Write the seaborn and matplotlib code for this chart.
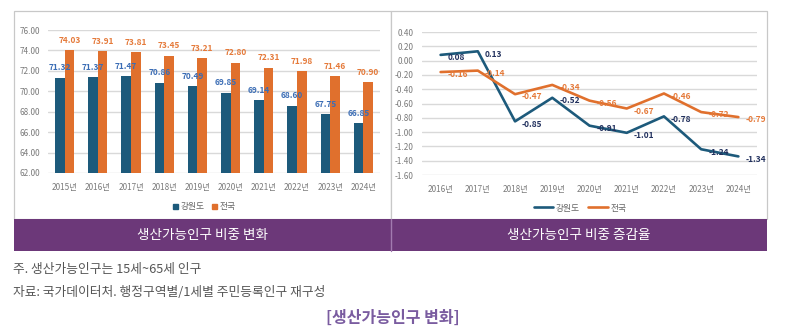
import matplotlib
matplotlib.use("Agg")
import matplotlib.pyplot as plt
from matplotlib.patches import Rectangle
from matplotlib.lines import Line2D
import seaborn as sns
import pandas as pd

# ---- data ----
bar_years = ["2015년", "2016년", "2017년", "2018년", "2019년", "2020년", "2021년", "2022년", "2023년", "2024년"]
share_gangwon = [71.32, 71.37, 71.47, 70.86, 70.49, 69.85, 69.14, 68.60, 67.75, 66.85]
share_national = [74.03, 73.91, 73.81, 73.45, 73.21, 72.80, 72.31, 71.98, 71.46, 70.90]

line_years = ["2016년", "2017년", "2018년", "2019년", "2020년", "2021년", "2022년", "2023년", "2024년"]
rate_gangwon = [0.08, 0.13, -0.85, -0.52, -0.91, -1.01, -0.78, -1.24, -1.34]
rate_national = [-0.16, -0.14, -0.47, -0.34, -0.56, -0.67, -0.46, -0.72, -0.79]

series_names = ["강원도", "전국"]
panel_titles = ["생산가능인구 비중 변화", "생산가능인구 비중 증감율"]
note_lines = ["주. 생산가능인구는 15세~65세 인구", "자료: 국가데이터처. 행정구역별/1세별 주민등록인구 재구성"]
main_title = "[생산가능인구 변화]"

# ---- style ----
sns.set_theme(style="white")
plt.rcParams["font.family"] = ["Noto Sans CJK KR", "DejaVu Sans"]
plt.rcParams["axes.unicode_minus"] = False

BLUE = "#1D5A7B"
ORANGE = "#E0702D"
BLUE_LBL = "#3B6DB5"
NAVY_LBL = "#22315E"
ORANGE_LBL = "#E57A3A"
GRID = "#D9D9D9"
TICK = "#7A7A7A"
PURPLE = "#6C3879"

W, H = 786, 327
fig = plt.figure(figsize=(W / 100, H / 100), dpi=100)


def fx(px):
    return px / W


def fy(py):
    return 1 - py / H


# panel boxes
for x0, x1 in [(14, 391), (391, 767)]:
    fig.add_artist(Rectangle((fx(x0), fy(219)), fx(x1 - x0), (219 - 11) / H,
                             transform=fig.transFigure, facecolor="white",
                             edgecolor="#C8C8C8", lw=0.9, zorder=0))
# purple band
fig.add_artist(Rectangle((fx(14), fy(251)), fx(767 - 14), (251 - 219) / H,
                         transform=fig.transFigure, facecolor=PURPLE,
                         edgecolor="none", zorder=1))
fig.add_artist(Line2D([fx(391), fx(391)], [fy(251), fy(219)], transform=fig.transFigure,
                      color="#A27BB0", lw=1.0, zorder=2))
fig.text(fx(202), fy(235), panel_titles[0], color="white", fontsize=9.8,
         ha="center", va="center")
fig.text(fx(579), fy(235), panel_titles[1], color="white", fontsize=9.8,
         ha="center", va="center")

# ---- left: bar chart ----
df_bar = pd.DataFrame({
    "year": bar_years * 2,
    "value": share_gangwon + share_national,
    "series": [series_names[0]] * len(bar_years) + [series_names[1]] * len(bar_years),
})
ax1 = fig.add_axes([fx(48), fy(173), fx(380 - 48), (173 - 30) / H])
sns.barplot(data=df_bar, x="year", y="value", hue="series", ax=ax1,
            palette=[BLUE, ORANGE], width=0.58, saturation=1, legend=False,
            linewidth=0)
ax1.set_ylim(62, 76)
ax1.set_yticks(range(62, 77, 2))
ax1.set_yticklabels([f"{v:.2f}" for v in range(62, 77, 2)])
ax1.set_xlim(-0.5, len(bar_years) - 0.5)
for cont, col in zip(ax1.containers, [BLUE_LBL, ORANGE_LBL]):
    ax1.bar_label(cont, fmt="%.2f", color=col, fontsize=6, fontweight="bold", padding=4)

# ---- right: line chart ----
df_line = pd.DataFrame({
    "pos": list(range(len(line_years))) * 2,
    "value": rate_gangwon + rate_national,
    "series": [series_names[0]] * len(line_years) + [series_names[1]] * len(line_years),
})
ax2 = fig.add_axes([fx(422), fy(175), fx(757 - 422), (175 - 32) / H])
sns.lineplot(data=df_line, x="pos", y="value", hue="series", ax=ax2,
             palette=[BLUE, ORANGE], linewidth=1.9, legend=False)
ax2.set_xlim(-0.5, len(line_years) - 0.5)
ax2.set_ylim(-1.6, 0.4)
yt = [round(-1.6 + 0.2 * i, 1) for i in range(11)]
ax2.set_yticks(yt)
ax2.set_yticklabels([f"{v:.2f}" for v in yt])
ax2.set_xticks(range(len(line_years)))
ax2.set_xticklabels(line_years)
for vals, col in [(rate_gangwon, NAVY_LBL), (rate_national, ORANGE_LBL)]:
    for i, v in enumerate(vals):
        ax2.annotate(f"{v:.2f}", (i, v), xytext=(5, -2), textcoords="offset points",
                     ha="left", va="center", fontsize=6, fontweight="bold", color=col)

for ax in (ax1, ax2):
    ax.set_facecolor("none")
    ax.set_xlabel("")
    ax.set_ylabel("")
    for s in ax.spines.values():
        s.set_visible(False)
    ax.grid(axis="y", color=GRID, lw=1.0)
    ax.set_axisbelow(True)
    ax.tick_params(axis="both", length=0, labelsize=5.9, labelcolor=TICK)
    ax.tick_params(axis="x", pad=7)
    ax.tick_params(axis="y", pad=6)

# legends
leg1 = [Rectangle((0, 0), 1, 1, color=BLUE), Rectangle((0, 0), 1, 1, color=ORANGE)]
fig.legend(leg1, series_names, loc="center", bbox_to_anchor=(fx(204), fy(207)),
           ncol=2, frameon=False, fontsize=6.3, handlelength=0.6, handleheight=0.6,
           handletextpad=0.3, columnspacing=0.8, labelcolor="#666666")
leg2 = [Line2D([0], [0], color=BLUE, lw=1.9), Line2D([0], [0], color=ORANGE, lw=1.9)]
fig.legend(leg2, series_names, loc="center", bbox_to_anchor=(fx(580), fy(208)),
           ncol=2, frameon=False, fontsize=6.3, handlelength=2.2,
           handletextpad=0.3, columnspacing=1.0, labelcolor="#666666")

# notes
fig.text(fx(13), fy(270), note_lines[0], fontsize=9.2, color="#555555", ha="left", va="center")
fig.text(fx(13), fy(292), note_lines[1], fontsize=9.2, color="#555555", ha="left", va="center")
fig.text(fx(393), fy(318), main_title, fontsize=11.5, color="#7A5CA0", fontweight="bold",
         ha="center", va="center")

fig.savefig("out.png", dpi=100)
